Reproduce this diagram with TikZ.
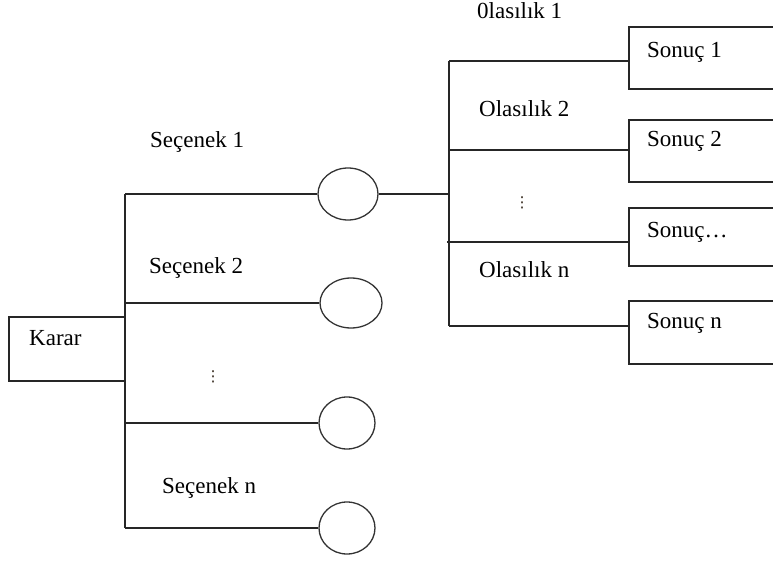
\documentclass[tikz,border=0pt]{standalone}
\usepackage{fontspec}
\setmainfont{Liberation Serif}
\newfontfamily\symfont{DejaVu Sans}
\usetikzlibrary{shapes.geometric}
\tikzset{
  link/.style={line width=1.3pt, draw=black!85},
  chance/.style={ellipse, draw=black!80, line width=1.3pt, inner sep=0pt,
                 minimum width=60pt, minimum height=52pt},
  decbox/.style={rectangle, draw=black!85, line width=1.3pt, inner sep=0pt},
  lbl/.style={anchor=base west, inner sep=0pt, font=\fontsize{23}{27}\selectfont},
  more/.style={inner sep=0pt, text=black!80!brown, font=\symfont\fontsize{15}{15}\selectfont}
}
\begin{document}
\begin{tikzpicture}[x=1pt, y=-1pt]
\useasboundingbox (0,0) rectangle (773,561);
\clip (0,0) rectangle (773,561);

% decision box
\node[decbox, minimum width=116pt, minimum height=64pt] (karar) at (67,349) {};
\node[lbl] (tkarar) at (29,345) {Karar};

% chance nodes
\node[chance] (e1) at (348,194) {};
\node[chance, minimum width=62pt, minimum height=50pt] (e2) at (351,303) {};
\node[chance, minimum width=56pt] (e3) at (347,423) {};
\node[chance, minimum width=56pt] (e4) at (347,528) {};

% outcome boxes (running off to the right)
\node[decbox, minimum width=171pt, minimum height=62pt] (s1) at (714.5,58) {};
\node[decbox, minimum width=171pt, minimum height=62pt] (s2) at (714.5,151) {};
\node[decbox, minimum width=171pt, minimum height=58pt] (s3) at (714.5,237) {};
\node[decbox, minimum width=171pt, minimum height=63pt] (s4) at (714.5,332.5) {};

% junctions
\coordinate (a1) at (125,194);
\coordinate (a2) at (125,303);
\coordinate (a3) at (125,423);
\coordinate (a4) at (125,528);
\coordinate (b0) at (449,194);
\coordinate (b1) at (449,61);
\coordinate (b2) at (449,150);
\coordinate (b3) at (449,242);
\coordinate (b4) at (449,326);

% decision branches
\draw[link] (a1) -- (a4);
\draw[link] (a1) -- (e1.west);
\draw[link] (a2) -- (e2.west);
\draw[link] (a3) -- (e3.west);
\draw[link] (a4) -- (e4.west);

% chance branches
\draw[link] (e1.east) -- (b0);
\draw[link] (b1) -- (b4);
\draw[link] (b1) -- (s1.west |- b1);
\draw[link] (b2) -- (s2.west |- b2);
\draw[link] ([xshift=-2pt]b3) -- (s3.west |- b3);
\draw[link] (b4) -- (s4.west |- b4);

% labels
\node[lbl] (l1) at (150,148) {Seçenek 1};
\node[lbl] (l2) at (149,273) {Seçenek 2};
\node[more] (l3) at (213,377) {⋮};
\node[lbl] (l4) at (162,493) {Seçenek n};

\node[lbl] (p1) at (477,19) {0lasılık 1};
\node[lbl] (p2) at (479,117) {Olasılık 2};
\node[more] (p3) at (522,203) {⋮};
\node[lbl] (p4) at (479,277) {Olasılık n};

\node[lbl] (t1) at (647,58) {Sonuç 1};
\node[lbl] (t2) at (647,147) {Sonuç 2};
\node[lbl] (t3) at (647,237) {Sonuç…};
\node[lbl] (t4) at (647,328) {Sonuç n};
\end{tikzpicture}
\end{document}
